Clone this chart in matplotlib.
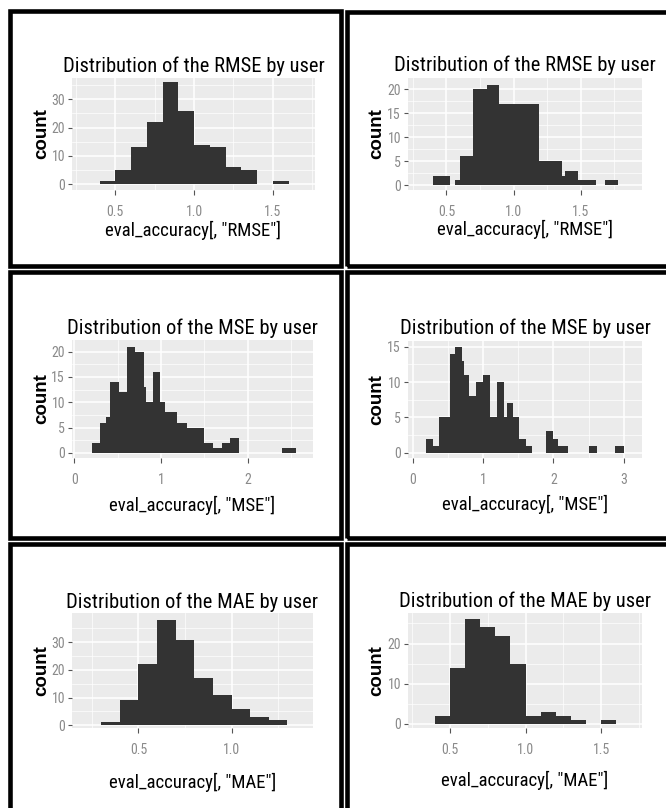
import matplotlib
matplotlib.use("Agg")
import matplotlib.pyplot as plt
from matplotlib.patches import Rectangle

W, H = 666, 808

# histogram data (bin edges, counts)
rmse1_edges = [0.4, 0.5, 0.6, 0.7, 0.8, 0.9, 1.0, 1.1, 1.2, 1.3, 1.4, 1.5, 1.6]
rmse1_counts = [1, 5, 13, 22, 36, 26, 14, 13, 6, 5, 0, 1]

rmse2_edges = [0.40, 0.53, 0.56, 0.60, 0.70, 0.80, 0.89, 1.19, 1.36, 1.38, 1.48, 1.61, 1.68, 1.78]
rmse2_counts = [2, 0, 1, 6, 20, 21, 17, 5, 2, 3, 1, 0, 1]

mse1_edges = [0.20, 0.30, 0.37, 0.41, 0.51, 0.61, 0.70, 0.81, 0.83, 0.91, 0.99, 1.05,
              1.18, 1.30, 1.50, 1.60, 1.70, 1.80, 1.90, 2.40, 2.56]
mse1_counts = [2, 6, 7, 14, 12, 21, 20, 13, 10, 16, 10, 8, 6, 5, 2, 1, 2, 3, 0, 1]

mse2_edges = [0.18, 0.29, 0.37, 0.52, 0.60, 0.70, 0.72, 0.80, 0.90, 1.00, 1.10, 1.19, 1.30,
              1.34, 1.42, 1.51, 1.61, 1.70, 1.90, 2.00, 2.07, 2.20, 2.51, 2.62, 2.88, 3.00]
mse2_counts = [2, 1, 5, 14, 15, 13, 11, 8, 10, 11, 5, 10, 5, 7, 5, 2, 1, 0, 3, 2, 1, 0, 1, 0, 1]

mae1_edges = [0.3, 0.4, 0.5, 0.6, 0.7, 0.8, 0.9, 1.0, 1.1, 1.2, 1.3]
mae1_counts = [1, 9, 22, 38, 31, 17, 11, 6, 3, 2]

mae2_edges = [0.4, 0.5, 0.6, 0.7, 0.8, 0.9, 1.0, 1.1, 1.2, 1.3, 1.4, 1.5, 1.6]
mae2_counts = [2, 14, 26, 24, 22, 15, 2, 3, 2, 1, 0, 1]

titles = ["Distribution of the RMSE by user"] * 2 + ["Distribution of the MSE by user"] * 2 \
    + ["Distribution of the MAE by user"] * 2
xlabels = ['eval_accuracy[, "RMSE"]'] * 2 + ['eval_accuracy[, "MSE"]'] * 2 + ['eval_accuracy[, "MAE"]'] * 2
xticks = [[0.5, 1.0, 1.5], [0.5, 1.0, 1.5], [0, 1, 2], [0, 1, 2, 3], [0.5, 1.0], [0.5, 1.0, 1.5]]
xticklabels = [["0.5", "1.0", "1.5"], ["0.5", "1.0", "1.5"], ["0", "1", "2"], ["0", "1", "2", "3"],
               ["0.5", "1.0"], ["0.5", "1.0", "1.5"]]
yticks = [[0, 10, 20, 30], [0, 5, 10, 15, 20], [0, 5, 10, 15, 20], [0, 5, 10, 15], [0, 10, 20, 30], [0, 10, 20]]

hists = [(rmse1_edges, rmse1_counts), (rmse2_edges, rmse2_counts), (mse1_edges, mse1_counts),
         (mse2_edges, mse2_counts), (mae1_edges, mae1_counts), (mae2_edges, mae2_counts)]

# layout in pixels: grey panel box (x0, x1, y0, y1), axis limits
boxes = [(72, 315, 78, 190), (408, 642, 78, 190), (72, 313, 340, 458),
         (408, 642, 341, 458), (72, 313, 613, 728), (408, 642, 613, 728)]
xlims = [(0.225, 1.768), (0.214, 1.955), (-0.027, 2.756), (-0.071, 3.26), (0.143, 1.4375), (0.224, 1.769)]
ylims = [(-2.0, 37.5), (-1.0, 22.4), (-1.0, 22.3), (-0.75, 15.8), (-1.0, 40.6), (-1.0, 27.6)]
title_base = [71.7, 71, 334.3, 334.3, 607.7, 606.7]
xlabel_base = [236, 235, 510.7, 510, 787.7, 785.7]
ylabel_x = [42, 376.7, 42, 376.7, 42, 376.7]
frames = [(10.5, 340.5, 10.5, 266), (347, 700, 12, 266), (10.5, 340.5, 272, 538),
          (347, 700, 272, 537.5), (10.5, 340.5, 544, 850), (347, 700, 544, 850)]

narrow = ['Roboto Condensed', 'DejaVu Sans']

fig = plt.figure(figsize=(W / 100, H / 100), dpi=100)


def fx(x):
    return x / W


def fy(y):
    return 1 - y / H


for i in range(6):
    x0, x1, y0, y1 = boxes[i]
    ax = fig.add_axes([fx(x0), fy(y1), (x1 - x0) / W, (y1 - y0) / H])
    ax.set_facecolor('#EBEBEB')
    edges, counts = hists[i]
    ax.stairs(counts, edges, fill=True, color='#333333', zorder=3)
    xt = xticks[i]
    yt = yticks[i]
    ax.set_xticks(xt)
    ax.set_xticklabels(xticklabels[i])
    ax.set_yticks(yt)
    ax.set_yticklabels([str(v) for v in yt])
    dx = xt[1] - xt[0]
    dy = yt[1] - yt[0]
    ax.set_xticks([xt[0] - dx / 2] + [v + dx / 2 for v in xt], minor=True)
    ax.set_yticks([v + dy / 2 for v in yt], minor=True)
    ax.set_xlim(*xlims[i])
    ax.set_ylim(*ylims[i])
    ax.grid(which='major', color='white', lw=1.1, zorder=1)
    ax.grid(which='minor', color='white', lw=0.5, zorder=1)
    ax.set_axisbelow(True)
    for s in ax.spines.values():
        s.set_visible(False)
    ax.tick_params(which='minor', length=0)
    ax.tick_params(axis='x', length=3.5, width=0.8, color='#555555', pad=7,
                   labelsize=10, labelcolor='#8a8a8a')
    ax.tick_params(axis='y', length=3, width=0.8, color='#555555', pad=2,
                   labelsize=10, labelcolor='#8a8a8a')
    for lab in ax.get_xticklabels() + ax.get_yticklabels():
        lab.set_family(narrow)

    cx = fx((x0 + x1) / 2)
    fig.text(cx, fy(title_base[i]), titles[i], ha='center', va='baseline',
             fontsize=14.8, family=narrow, color='black')
    fig.text(cx, fy(xlabel_base[i]), xlabels[i], ha='center', va='baseline',
             fontsize=13.5, family=narrow, color='black')
    fig.text(fx(ylabel_x[i]), fy((y0 + y1) / 2), 'count', rotation=90, ha='center', va='center',
             fontsize=13.5, family=['Liberation Sans', 'DejaVu Sans'], weight='bold', color='black')

    bx0, bx1, by0, by1 = frames[i]
    fig.add_artist(Rectangle((fx(bx0), fy(by1)), (bx1 - bx0) / W, (by1 - by0) / H,
                             transform=fig.transFigure, fill=False, ec='black', lw=3.3,
                             clip_on=False))

fig.savefig('out.png', dpi=100)
